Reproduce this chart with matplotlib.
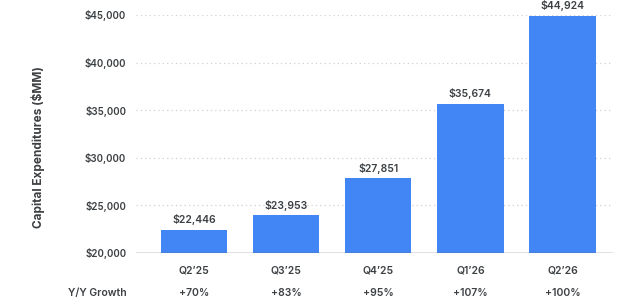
import matplotlib.pyplot as plt
import numpy as np

# data
quarters = ["Q2\u201925", "Q3\u201925", "Q4\u201925", "Q1\u201926", "Q2\u201926"]
capex = [22446, 23953, 27851, 35674, 44924]
growth = ["+70%", "+83%", "+95%", "+107%", "+100%"]
yticks = [20000, 25000, 30000, 35000, 40000, 45000]

plt.rcParams['font.family'] = ['Inter', 'DejaVu Sans']
txt = "#3c4043"

fig = plt.figure(figsize=(6.4, 3.08), dpi=100)
ax = fig.add_axes([0.2125, 0.1786, 0.7455, 0.7727])

x = np.arange(len(quarters))
ax.bar(x, np.array(capex) - 20000, bottom=20000, width=0.72, color="#4285f4", zorder=3)
for xi, v in zip(x, capex):
    ax.text(xi, v + 450, f"${v:,}", ha="center", va="bottom", fontsize=7.5,
            fontweight="semibold", color=txt, clip_on=False)

ax.set_xlim(-0.63, 4.55)
ax.set_ylim(20000, 45000)
ax.set_yticks(yticks)
ax.set_yticklabels([f"${t:,}" for t in yticks], fontsize=7, fontweight="semibold", color=txt)
ax.set_xticks(x)
ax.set_xticklabels(quarters, fontsize=7.5, fontweight="semibold", color=txt)
ax.tick_params(length=0, pad=9)
ax.tick_params(axis="y", pad=7)

for t in yticks[1:]:
    ax.axhline(t, color="#d0d0d0", lw=0.9, ls=(0, (1, 2.5)), zorder=1)
ax.axhline(20000, color="#5f6368", lw=1.0, zorder=4)

for s in ax.spines.values():
    s.set_visible(False)

ax.set_ylabel("Capital Expenditures ($MM)", fontsize=8.5, fontweight="bold", color=txt)
ax.yaxis.set_label_coords(-0.19, 0.445)

# growth row under the axis
for xi, g in zip(x, growth):
    ax.text(xi, -0.17, g, transform=ax.get_xaxis_transform(), ha="center",
            va="center", fontsize=7.5, fontweight="semibold", color=txt)
ax.text(-0.02, -0.17, "Y/Y Growth", transform=ax.transAxes, ha="right",
        va="center", fontsize=7.5, fontweight="semibold", color=txt)

fig.savefig("out.png", dpi=100)
